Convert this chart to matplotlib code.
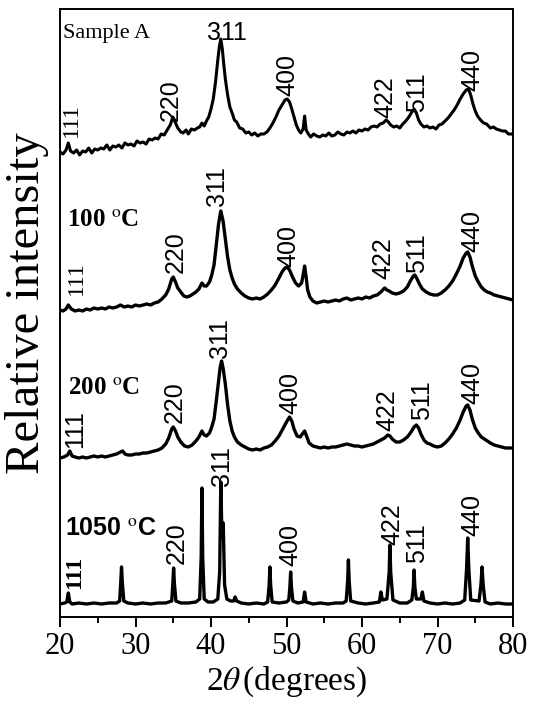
import matplotlib
matplotlib.use("Agg")
import matplotlib.pyplot as plt
import numpy as np

plt.rcParams['mathtext.fontset'] = 'stix'

SERIF = 'Liberation Serif'
SANS = 'Liberation Sans'

# ---- data: 2theta (deg) and intensity (a.u.), one pair per pattern ----
tth_a = [20.0, 20.4, 20.8, 21.1, 21.4, 21.8, 22.2, 22.6, 23.0, 23.4, 23.8, 24.2, 24.6, 25.0,
         25.4, 25.8, 26.2, 26.6, 27.0, 27.4, 27.8, 28.2, 28.6, 29.0, 29.4, 29.8, 30.2, 30.6,
         31.0, 31.4, 31.8, 32.2, 32.6, 33.0, 33.4, 33.8, 34.2, 34.6, 34.95, 35.3, 35.6, 36.0,
         36.3, 36.7, 37.0, 37.4, 37.8, 38.2, 38.5, 38.8, 39.1, 39.4, 39.7, 40.0, 40.3, 40.6,
         40.9, 41.1, 41.3, 41.5, 41.7, 41.9, 42.2, 42.5, 42.8, 43.1, 43.4, 43.8, 44.2, 44.6,
         45.0, 45.4, 45.8, 46.2, 46.6, 47.0, 47.4, 47.8, 48.2, 48.6, 49.0, 49.4, 49.8, 50.1,
         50.4, 50.7, 51.0, 51.3, 51.6, 51.9, 52.2, 52.4, 52.6, 52.9, 53.2, 53.6, 54.0, 54.4,
         54.8, 55.2, 55.6, 56.0, 56.4, 56.8, 57.2, 57.6, 58.0, 58.4, 58.8, 59.2, 59.6, 60.0,
         60.4, 60.8, 61.2, 61.6, 62.0, 62.4, 62.8, 63.2, 63.5, 63.8, 64.2, 64.6, 65.0, 65.4,
         65.8, 66.2, 66.6, 66.9, 67.2, 67.5, 67.8, 68.2, 68.6, 69.0, 69.4, 69.8, 70.2, 70.6,
         71.0, 71.4, 71.8, 72.2, 72.6, 73.0, 73.4, 73.8, 74.1, 74.4, 74.7, 75.0, 75.3, 75.7,
         76.1, 76.5, 77.0, 77.4, 77.8, 78.2, 78.6, 79.0, 79.4, 80.0]
int_a = [5, 3, 7, 14, 6, 4, 7, 2, 6, 5, 9, 4, 8, 7,
         9, 8, 12, 7, 11, 10, 12, 9, 14, 12, 13, 11, 16, 14,
         15, 13, 18, 17, 19, 18, 23, 22, 27, 32, 40, 34, 29, 25,
         24, 27, 23, 28, 27, 29, 30, 34, 31, 36, 40, 48, 58, 75,
         97, 110, 118, 108, 92, 78, 62, 50, 44, 37, 35, 29, 28, 24,
         25, 22, 24, 21, 23, 23, 25, 29, 34, 40, 47, 52, 57, 58,
         55, 48, 40, 32, 27, 24, 28, 41, 27, 23, 20, 23, 21, 20,
         22, 21, 24, 21, 22, 25, 23, 22, 25, 24, 26, 24, 27, 26,
         28, 27, 30, 31, 30, 33, 34, 37, 35, 32, 30, 31, 29, 33,
         36, 40, 45, 48, 44, 37, 33, 30, 31, 29, 30, 28, 32, 33,
         36, 39, 43, 47, 52, 58, 63, 67, 68, 62, 53, 46, 41, 37,
         34, 33, 29, 30, 28, 27, 26, 26, 23, 23]

tth_100 = [20.0, 20.4, 20.8, 21.1, 21.5, 22.0, 22.5, 23.0, 23.5, 24.0, 24.5, 25.0, 25.5, 26.0,
           26.5, 27.0, 27.5, 28.0, 28.5, 29.0, 29.5, 30.0, 30.5, 31.0, 31.5, 32.0, 32.5, 33.0,
           33.5, 34.0, 34.4, 34.8, 35.0, 35.3, 35.6, 36.0, 36.4, 36.8, 37.2, 37.6, 38.0, 38.4,
           38.8, 39.1, 39.4, 39.8, 40.1, 40.4, 40.7, 41.0, 41.3, 41.6, 41.9, 42.2, 42.5, 42.8,
           43.1, 43.5, 44.0, 44.5, 45.0, 45.5, 46.0, 46.5, 47.0, 47.5, 48.0, 48.5, 49.0, 49.4,
           49.8, 50.1, 50.4, 50.8, 51.2, 51.6, 52.0, 52.2, 52.4, 52.6, 52.8, 53.1, 53.5, 54.0,
           54.5, 55.0, 55.5, 56.0, 56.5, 57.0, 57.5, 58.0, 58.5, 59.0, 59.5, 60.0, 60.5, 61.0,
           61.5, 62.0, 62.5, 63.0, 63.3, 63.6, 64.0, 64.5, 65.0, 65.5, 66.0, 66.4, 66.8, 67.0,
           67.3, 67.6, 68.0, 68.5, 69.0, 69.5, 70.0, 70.5, 71.0, 71.5, 72.0, 72.5, 73.0, 73.4,
           73.8, 74.0, 74.3, 74.6, 75.0, 75.4, 75.8, 76.2, 76.6, 77.0, 77.5, 78.0, 78.5, 79.0,
           79.5, 80.0]
int_100 = [7, 6, 8, 12, 8, 6, 7, 6, 8, 7, 9, 8, 9, 8,
           10, 9, 10, 12, 10, 11, 10, 12, 11, 12, 13, 12, 14, 15,
           18, 22, 28, 38, 40, 35, 29, 25, 21, 20, 21, 23, 25, 28,
           34, 31, 31, 35, 42, 52, 72, 93, 106, 96, 78, 60, 47, 39,
           33, 28, 24, 21, 19, 18, 19, 18, 20, 23, 27, 32, 39, 45,
           49, 50, 47, 40, 34, 31, 34, 42, 51, 40, 27, 20, 16, 14,
           15, 16, 15, 16, 17, 16, 18, 19, 17, 18, 19, 18, 20, 19,
           21, 22, 25, 29, 27, 26, 24, 23, 24, 26, 30, 36, 41, 42,
           38, 33, 28, 25, 23, 22, 22, 24, 27, 31, 36, 43, 51, 59,
           64, 65, 60, 51, 41, 35, 30, 27, 25, 24, 22, 21, 20, 19,
           18, 17]

tth_200 = [20.0, 20.5, 21.0, 21.3, 21.6, 22.0, 22.5, 23.0, 23.5, 24.0, 24.5, 25.0, 25.5, 26.0,
           26.5, 27.0, 27.5, 28.0, 28.3, 28.6, 29.0, 29.5, 30.0, 30.5, 31.0, 31.5, 32.0, 32.5,
           33.0, 33.5, 34.0, 34.4, 34.8, 35.0, 35.3, 35.6, 36.0, 36.5, 37.0, 37.5, 38.0, 38.4,
           38.8, 39.1, 39.4, 39.8, 40.1, 40.4, 40.7, 41.0, 41.2, 41.4, 41.6, 41.9, 42.2, 42.5,
           42.8, 43.1, 43.5, 44.0, 44.5, 45.0, 45.5, 46.0, 46.5, 47.0, 47.5, 48.0, 48.5, 49.0,
           49.5, 50.0, 50.4, 50.7, 51.0, 51.4, 51.8, 52.1, 52.4, 52.7, 53.0, 53.5, 54.0, 54.5,
           55.0, 55.5, 56.0, 56.5, 57.0, 57.5, 58.0, 58.5, 59.0, 59.5, 60.0, 60.5, 61.0, 61.5,
           62.0, 62.5, 63.0, 63.4, 63.7, 64.0, 64.5, 65.0, 65.5, 66.0, 66.5, 66.9, 67.2, 67.5,
           67.8, 68.2, 68.6, 69.0, 69.5, 70.0, 70.5, 71.0, 71.5, 72.0, 72.5, 73.0, 73.4, 73.8,
           74.0, 74.3, 74.6, 75.0, 75.4, 75.8, 76.2, 76.6, 77.0, 77.5, 78.0, 78.5, 79.0, 79.5,
           80.0]
int_200 = [4, 5, 7, 11, 6, 5, 4, 5, 4, 5, 6, 5, 6, 5,
           6, 7, 8, 10, 11, 8, 7, 7, 8, 8, 9, 9, 10, 11,
           12, 14, 18, 24, 33, 35, 31, 25, 20, 16, 15, 17, 21, 25,
           31, 27, 26, 29, 35, 43, 61, 81, 94, 101, 94, 78, 57, 41,
           31, 25, 20, 17, 15, 13, 12, 13, 12, 14, 15, 17, 21, 26,
           33, 40, 45, 41, 33, 26, 25, 28, 31, 25, 19, 16, 15, 14,
           15, 14, 15, 15, 16, 17, 18, 17, 16, 16, 15, 16, 17, 18,
           20, 22, 24, 27, 26, 23, 20, 20, 22, 25, 30, 35, 37, 34,
           28, 22, 19, 18, 16, 15, 16, 19, 23, 28, 34, 42, 50, 56,
           57, 52, 43, 34, 29, 25, 23, 21, 19, 17, 16, 15, 14, 14,
           14]

tth_1050 = [20.0, 20.6, 20.9, 21.1, 21.3, 21.6, 22.5, 23.5, 24.5, 25.5, 26.5, 27.5, 27.9, 28.05,
            28.15, 28.25, 28.45, 29.0, 30.0, 31.0, 32.0, 33.0, 34.0, 34.8, 34.95, 35.05, 35.15, 35.35,
            36.0, 37.0, 38.0, 38.5, 38.7, 38.8, 38.9, 39.1, 39.6, 40.3, 40.9, 41.15, 41.3, 41.45,
            41.62, 41.8, 42.1, 42.6, 43.0, 43.2, 43.4, 44.0, 45.0, 46.0, 47.0, 47.5, 47.7, 47.8,
            47.9, 48.1, 49.0, 50.0, 50.3, 50.45, 50.55, 50.65, 50.85, 51.5, 52.2, 52.4, 52.6, 53.5,
            54.5, 55.5, 56.5, 57.5, 57.9, 58.1, 58.2, 58.3, 58.5, 59.5, 60.5, 61.5, 62.3, 62.5,
            62.7, 63.3, 63.6, 63.7, 63.8, 64.1, 65.0, 66.0, 66.6, 66.8, 66.9, 67.0, 67.2, 67.8,
            68.0, 68.2, 69.0, 70.0, 71.0, 72.0, 73.0, 73.6, 73.85, 74.0, 74.15, 74.4, 75.5, 75.75,
            75.9, 76.05, 76.3, 77.0, 78.0, 79.0, 80.0]
int_1050 = [13, 14, 15, 24, 15, 13, 14, 13, 14, 13, 14, 14, 16, 35,
            50, 35, 16, 14, 13, 14, 13, 14, 14, 16, 34, 49, 34, 16,
            14, 14, 15, 18, 60, 129, 60, 18, 15, 15, 18, 45, 135, 80,
            94, 32, 18, 16, 16, 20, 16, 14, 13, 14, 13, 15, 32, 50,
            32, 15, 14, 15, 17, 30, 45, 30, 16, 14, 15, 25, 15, 13,
            14, 13, 14, 14, 16, 36, 57, 36, 16, 14, 13, 14, 15, 25,
            17, 18, 45, 72, 45, 17, 14, 14, 17, 30, 47, 30, 18, 18,
            25, 16, 14, 13, 14, 13, 14, 17, 48, 79, 48, 17, 16, 32,
            50, 32, 15, 13, 14, 13, 13]

patterns = [(tth_a, int_a), (tth_100, int_100), (tth_200, int_200), (tth_1050, int_1050)]
offsets = [460, 300, 155, 0]
widths = [2.2, 2.4, 2.4, 2.4]

hkl = ['111', '220', '311', '400', '422', '511', '440']
# label anchor (2theta, y) for each pattern, same order as hkl
label_pos = [
    [(21.46, 497), (34.70, 517), (42.12, 584), (50.07, 542), (63.05, 520), (67.28, 525), (74.57, 547)],
    [(22.12, 339), (35.36, 365), (40.79, 431), (50.20, 371), (62.78, 359), (67.28, 364), (74.57, 386)],
    [(21.99, 188), (35.23, 215), (41.19, 279), (50.46, 224), (63.31, 207), (67.95, 217), (74.57, 234)],
    [(21.99, 45), (35.50, 74), (41.46, 151), (50.46, 72), (63.97, 93), (67.28, 74), (74.57, 102)],
]

fig = plt.figure(figsize=(5.34, 7.13), dpi=100)
ax = fig.add_axes([60 / 534, 96 / 713, 453 / 534, 608 / 713])

for (x, y), off, lw in zip(patterns, offsets, widths):
    ax.plot(x, np.array(y) + off, color='black', lw=lw, solid_joinstyle='round')

# peak indices
for i, row in enumerate(label_pos):
    for j, (lbl, (px, py)) in enumerate(zip(hkl, row)):
        if j == 0:
            if i == 2:
                kw = dict(family=SANS, fontsize=18)
            elif i == 3:
                kw = dict(family=SERIF, fontsize=17, fontweight='bold')
            else:
                kw = dict(family=SERIF, fontsize=17)
        else:
            kw = dict(family=SANS, fontsize=18)
        rot = 0 if (i == 0 and lbl == '311') else 90
        ax.text(px, py, lbl, rotation=rot, ha='center', va='center', **kw)

# sample names
ax.text(20.4, 579, 'Sample A', family=SERIF, fontsize=16, va='baseline')
ax.text(20.93, 390, '100 $^{\\rm o}$C', family=SERIF, fontsize=18, fontweight='bold', va='baseline')
ax.text(21.06, 222, '200 $^{\\rm o}$C', family=SERIF, fontsize=18, fontweight='bold', va='baseline')
ax.text(20.66, 82, '1050 $^{\\rm o}$C', family=SANS, fontsize=18, fontweight='bold', va='baseline')

ax.set_xlim(20, 80)
ax.set_ylim(0, 608)
ax.set_yticks([])
ax.set_xticks([20, 30, 40, 50, 60, 70, 80])
ax.set_xticks([25, 35, 45, 55, 65, 75], minor=True)
ax.tick_params(axis='x', which='major', direction='out', length=7, width=1.4,
               labelsize=22, pad=4)
ax.tick_params(axis='x', which='minor', direction='out', length=4, width=1.4)
for lab in ax.get_xticklabels():
    lab.set_family(SERIF)
for s in ax.spines.values():
    s.set_linewidth(1.4)

ax.set_xlabel(r'2$\theta\,$(degrees)', family=SERIF, fontsize=24, labelpad=2)
fig.text(27 / 534, 1 - 303 / 713, 'Relative intensity', family=SERIF, fontsize=35,
         rotation=90, ha='center', va='center')

fig.savefig('out.png', dpi=100)
